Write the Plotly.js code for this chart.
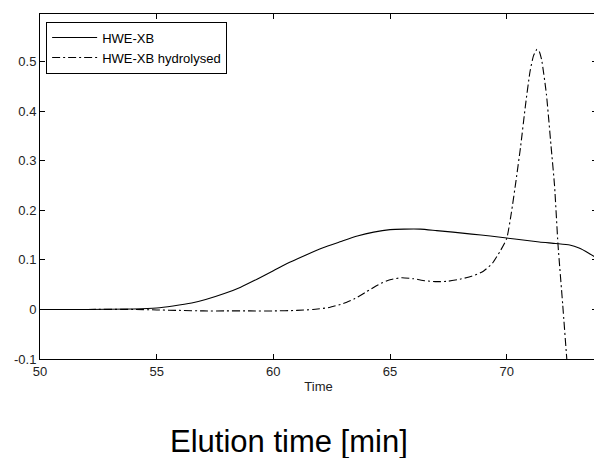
<!DOCTYPE html>
<html>
<head>
<meta charset="utf-8">
<script src="https://cdn.plot.ly/plotly-3.0.1.min.js"></script>
<style>
html,body{margin:0;padding:0;overflow:hidden;background:#fff;}
#chart{width:600px;height:458px;}
</style>
</head>
<body>
<div id="chart"></div>
<script>
// Data
var seriesNames = ["HWE-XB", "HWE-XB hydrolysed"];

var timeXB = [50, 52, 54, 55, 55.7, 56.5, 57.1, 57.9, 58.6, 59.3, 60, 60.7, 61.4, 62.1, 62.9, 63.6, 64.3, 65, 65.6, 66.3, 67, 67.7, 68.5, 69.3, 70, 70.7, 71.4, 72.1, 72.7, 73.1, 73.5, 73.9];
var valueXB = [0, 0, 0.001, 0.003, 0.007, 0.013, 0.020, 0.032, 0.045, 0.061, 0.078, 0.095, 0.110, 0.124, 0.137, 0.148, 0.156, 0.161, 0.162, 0.162, 0.159, 0.156, 0.152, 0.148, 0.144, 0.140, 0.136, 0.133, 0.130, 0.124, 0.114, 0.102];

var timeHyd = [50, 52, 54, 55, 56, 57, 58, 59, 60, 61, 61.7, 62.4, 63, 63.5, 64, 64.5, 65, 65.5, 66, 66.5, 67, 67.5, 68, 68.5, 69, 69.4, 69.7, 70, 70.2, 70.4, 70.6, 70.8, 71, 71.15, 71.3, 71.4, 71.5, 71.7, 71.9, 72.05, 72.2, 72.4, 72.6, 72.75];
var valueHyd = [0, 0, 0, -0.001, -0.002, -0.003, -0.003, -0.003, -0.003, -0.002, 0, 0.004, 0.012, 0.022, 0.036, 0.050, 0.060, 0.064, 0.062, 0.058, 0.056, 0.057, 0.061, 0.067, 0.077, 0.094, 0.116, 0.143, 0.195, 0.26, 0.33, 0.41, 0.48, 0.512, 0.525, 0.52, 0.503, 0.435, 0.33, 0.25, 0.13, 0.01, -0.115, -0.2];

var xTickVals = [50, 55, 60, 65, 70];
var xTickText = ["50", "55", "60", "65", "70"];
var yTickVals = [-0.1, 0, 0.1, 0.2, 0.3, 0.4, 0.5];
var yTickText = ["-0.1", "0", "0.1", "0.2", "0.3", "0.4", "0.5"];

var xTitle = "Time";
var caption = "Elution time [min]";

var fontFam = "Liberation Sans, Arial, Helvetica, sans-serif";

var traces = [
  {x: timeXB, y: valueXB, name: seriesNames[0], type: "scatter", mode: "lines",
   line: {color: "#000", width: 1.1, shape: "spline", smoothing: 0.6}},
  {x: timeHyd, y: valueHyd, name: seriesNames[1], type: "scatter", mode: "lines",
   line: {color: "#000", width: 1.1, dash: "8px,3px,2px,3px", shape: "spline", smoothing: 0.5}}
];

var layout = {
  width: 600, height: 458,
  margin: {l: 40, r: 3, t: 14, b: 99},
  paper_bgcolor: "#fff", plot_bgcolor: "#fff",
  font: {family: fontFam, size: 13, color: "#222"},
  showlegend: true,
  legend: {
    x: 0.011, y: 0.978, xanchor: "left", yanchor: "top",
    bgcolor: "#fff", bordercolor: "#000", borderwidth: 1,
    font: {family: fontFam, size: 13, color: "#000"},
    itemwidth: 45, tracegroupgap: 0
  },
  xaxis: {
    range: [50, 73.87], tickvals: xTickVals, ticktext: xTickText,
    ticks: "inside", ticklen: 5, tickcolor: "#000",
    showline: true, linecolor: "#000", linewidth: 1, mirror: "ticks",
    showgrid: false, zeroline: false,
    title: {text: xTitle, font: {family: fontFam, size: 13, color: "#222"}, standoff: 4}
  },
  yaxis: {
    range: [-0.1, 0.596], tickvals: yTickVals, ticktext: yTickText,
    ticks: "inside", ticklen: 5, tickcolor: "#000",
    showline: true, linecolor: "#000", linewidth: 1, mirror: "ticks",
    showgrid: false, zeroline: false
  },
  annotations: [{
    text: caption, xref: "paper", yref: "paper",
    x: 0.447, y: -0.238, xanchor: "center", yanchor: "middle",
    showarrow: false, font: {family: fontFam, size: 31, color: "#000"}
  }]
};

Plotly.newPlot("chart", traces, layout, {displayModeBar: false, staticPlot: true});
</script>
</body>
</html>
